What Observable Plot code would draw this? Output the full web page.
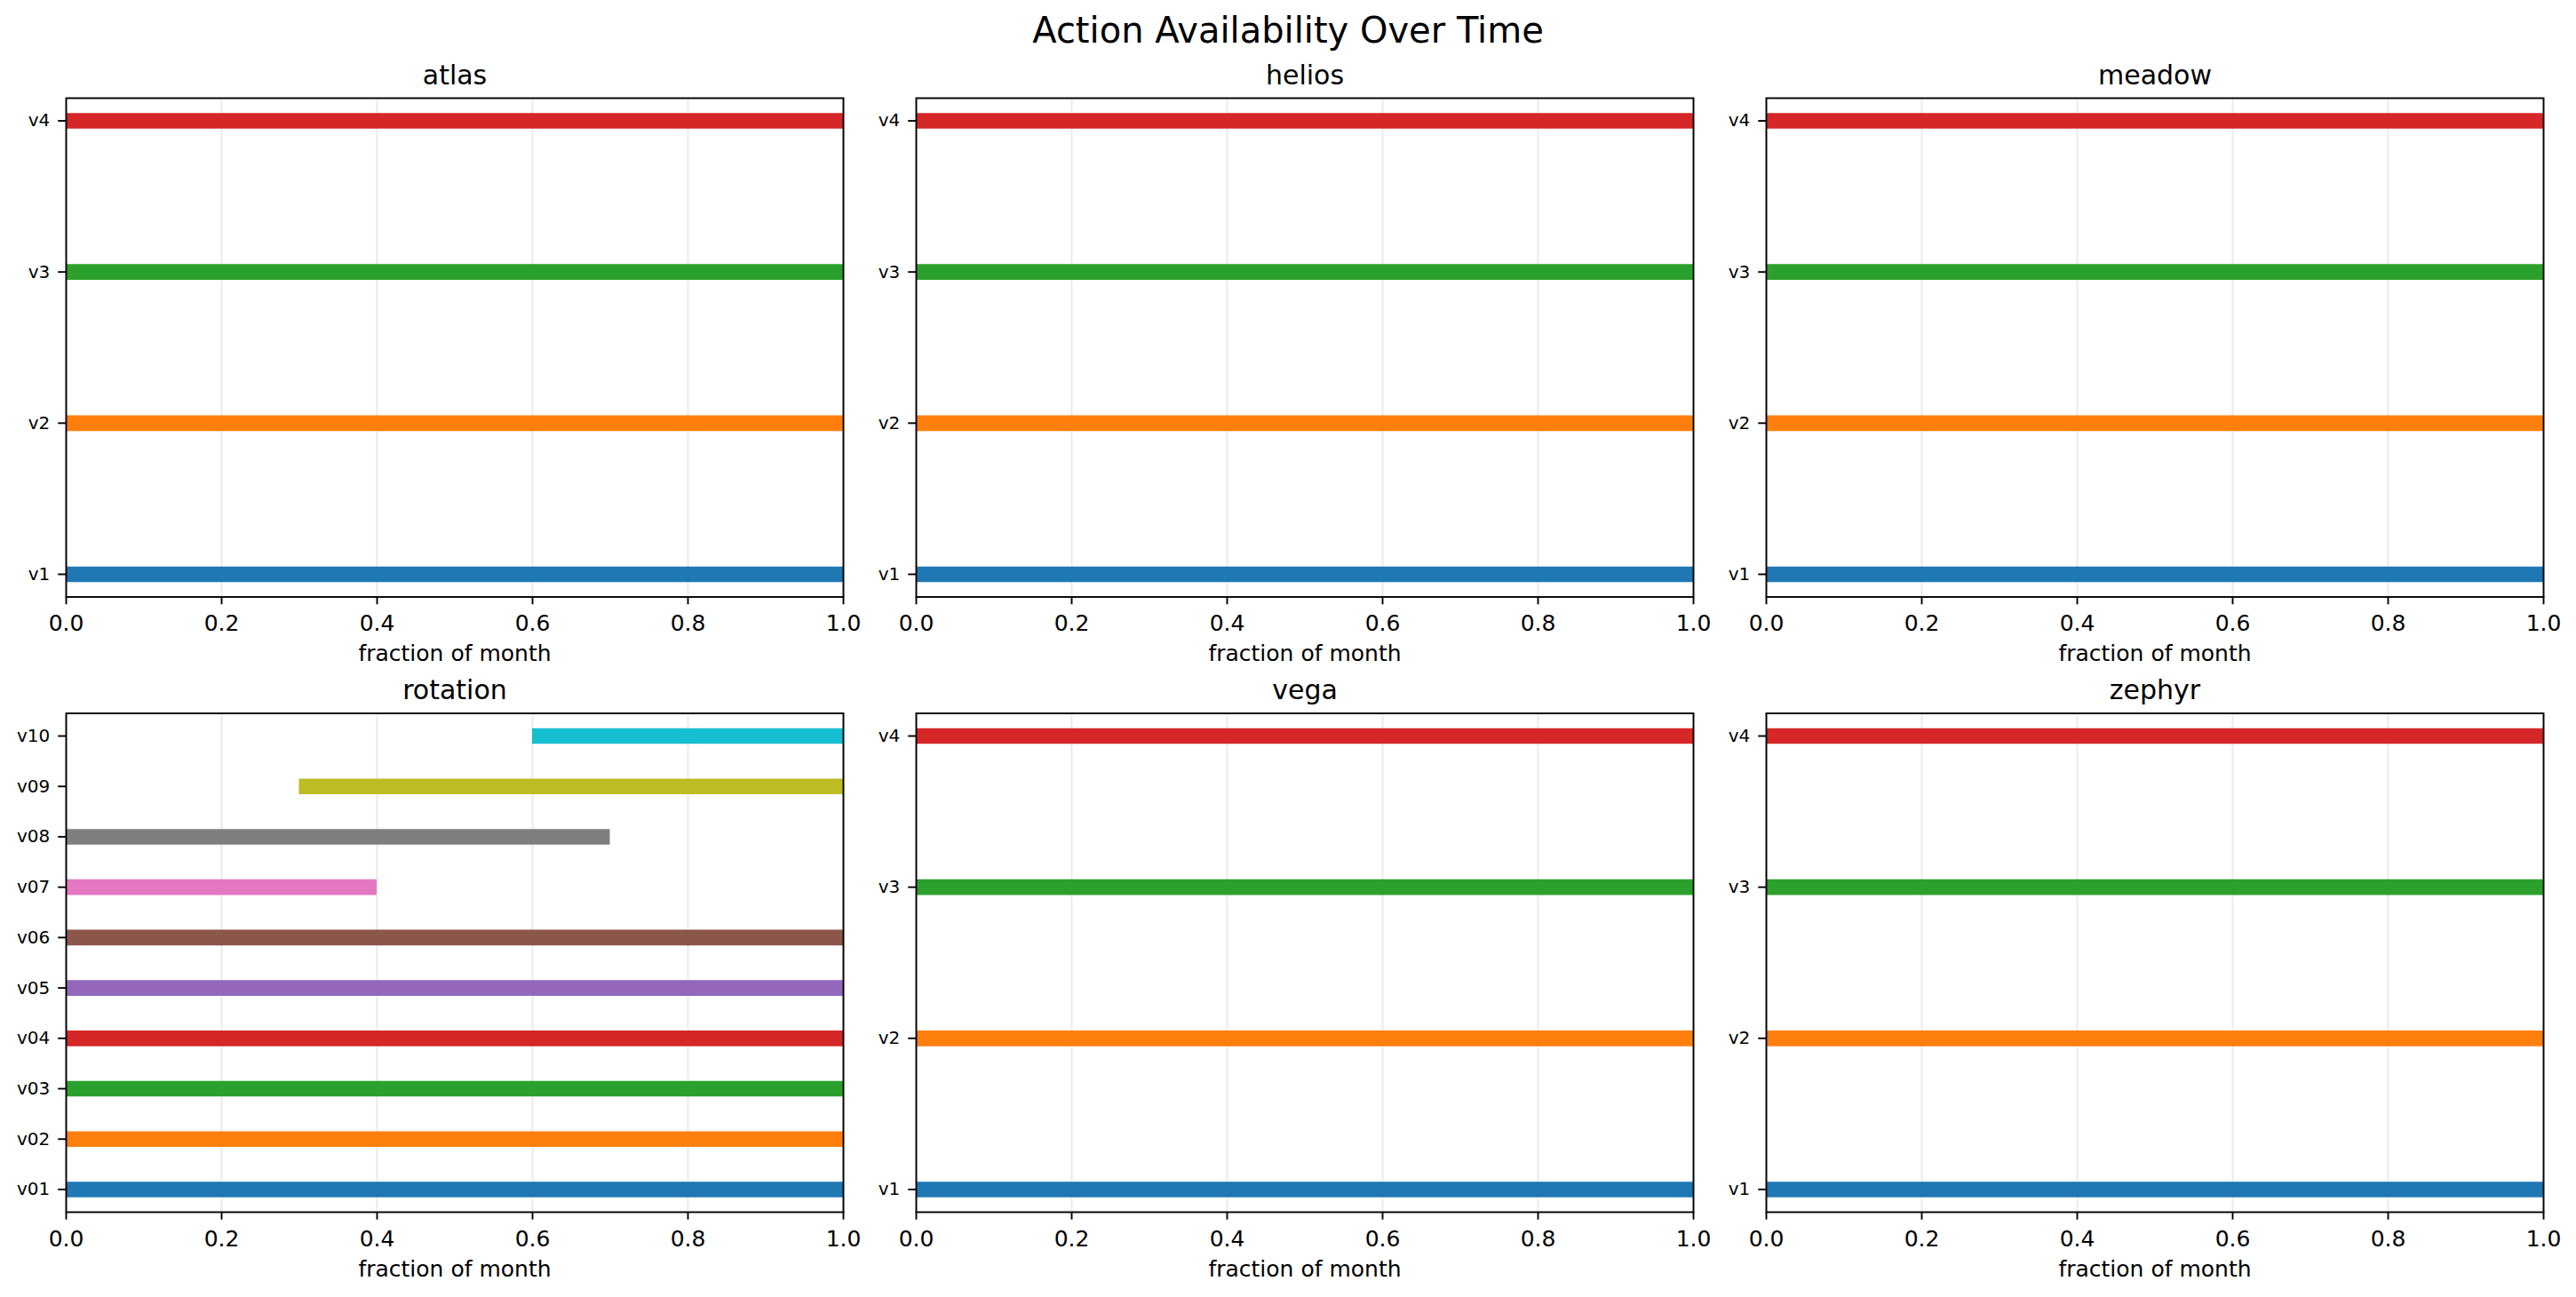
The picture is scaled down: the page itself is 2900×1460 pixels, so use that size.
<!DOCTYPE html>
<html>
<head>
<meta charset="utf-8">
<script src="https://cdn.jsdelivr.net/npm/d3@7"></script>
<script src="https://cdn.jsdelivr.net/npm/@observablehq/plot@0.6"></script>
<style>
html, body { margin: 0; padding: 0; background: #fff; }
#fig { position: relative; width: 2900px; height: 1460px; overflow: hidden; font-family: "DejaVu Sans", sans-serif; background: #fff; }
#suptitle { position: absolute; left: 0; width: 2900px; top: 14px; text-align: center; font-size: 40px; line-height: 40px; color: #000; }
.panel { position: absolute; }
</style>
</head>
<body>
<div id="fig"><div id="suptitle">Action Availability Over Time</div></div>
<script>
// ---- data ----
const panelNames = ["atlas", "helios", "meadow", "rotation", "vega", "zephyr"];

const stdVersions = ["v1", "v2", "v3", "v4"];
const stdStart = [0, 0, 0, 0];
const stdEnd = [1, 1, 1, 1];

const rotVersions = ["v01", "v02", "v03", "v04", "v05", "v06", "v07", "v08", "v09", "v10"];
const rotStart = [0, 0, 0, 0, 0, 0, 0, 0, 0.3, 0.6];
const rotEnd = [1, 1, 1, 1, 1, 1, 0.4, 0.7, 1, 1];

const xTicks = [0, 0.2, 0.4, 0.6, 0.8, 1.0];
const xLabel = "fraction of month";

// ---- styles ----
const palette = ["#1f77b4", "#ff7f0e", "#2ca02c", "#d62728", "#9467bd",
                 "#8c564b", "#e377c2", "#7f7f7f", "#bcbd22", "#17becf"];

const panelData = {
  atlas:    {versions: stdVersions, start: stdStart, end: stdEnd},
  helios:   {versions: stdVersions, start: stdStart, end: stdEnd},
  meadow:   {versions: stdVersions, start: stdStart, end: stdEnd},
  rotation: {versions: rotVersions, start: rotStart, end: rotEnd},
  vega:     {versions: stdVersions, start: stdStart, end: stdEnd},
  zephyr:   {versions: stdVersions, start: stdStart, end: stdEnd}
};

// ---- layout ----
const colAxisLeft = [74, 1031, 1988];
const axisWidth = 875;
const mLeft = 74, mRight = 8;
const rowLayout = [
  {top: 0,   height: 752, marginTop: 110,  marginBottom: 80.5},
  {top: 752, height: 708, marginTop: 50.5, marginBottom: 96}
];

const fig = document.getElementById("fig");

panelNames.forEach((name, i) => {
  const col = i % 3, row = Math.floor(i / 3);
  const L = rowLayout[row];
  const d = panelData[name];
  const idx = d.versions.map((_, k) => k);
  const n = d.versions.length;
  const pad = 0.05 * (n - 1);

  const chart = Plot.plot({
    width: mLeft + axisWidth + mRight,
    height: L.height,
    marginLeft: mLeft,
    marginRight: mRight,
    marginTop: L.marginTop,
    marginBottom: L.marginBottom,
    style: {fontFamily: "DejaVu Sans", fontSize: "25px", background: "transparent", overflow: "visible", color: "#000"},
    x: {domain: [0, 1]},
    y: {type: "point", domain: d.versions.slice().reverse(), padding: pad, round: false},
    color: {type: "ordinal", domain: d.versions, range: palette},
    marks: [
      Plot.gridX({ticks: xTicks, stroke: "#b0b0b0", strokeOpacity: 0.25, strokeWidth: 2}),
      Plot.ruleY(idx, {
        y: k => d.versions[k],
        x1: k => d.start[k],
        x2: k => d.end[k],
        stroke: k => d.versions[k],
        strokeWidth: 17.6
      }),
      Plot.frame({stroke: "#000", strokeWidth: 1.9}),
      Plot.axisX({ticks: xTicks, tickFormat: v => v.toFixed(1), tickSize: 8.75, tickPadding: 11.5,
                  strokeWidth: 1.9, label: null, fontSize: 25}),
      Plot.axisY({tickSize: 8.75, tickPadding: 9.5, strokeWidth: 1.9, label: null, fontSize: 20}),
      Plot.text([name], {text: t => t, frameAnchor: "top", dy: -16, lineAnchor: "bottom", fontSize: 30}),
      Plot.text([xLabel], {text: t => t, frameAnchor: "bottom", dy: 72, lineAnchor: "bottom", fontSize: 25})
    ]
  });

  const wrap = document.createElement("div");
  wrap.className = "panel";
  wrap.style.left = (colAxisLeft[col] - mLeft) + "px";
  wrap.style.top = L.top + "px";
  wrap.appendChild(chart);
  fig.appendChild(wrap);
});
</script>
</body>
</html>
